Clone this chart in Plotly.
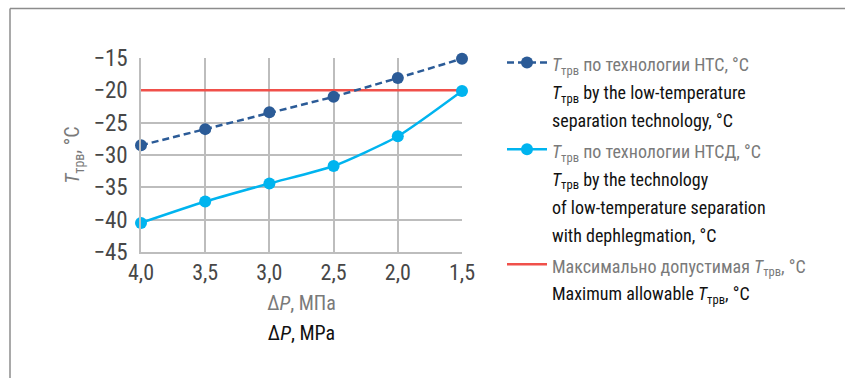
import plotly.graph_objects as go

dp = [4.0, 3.5, 3.0, 2.5, 2.0, 1.5]
t_nts = [-28.5, -26.0, -23.4, -21.0, -18.1, -15.1]
t_ntsd = [-40.5, -37.2, -34.4, -31.7, -27.1, -20.1]
t_max = [-20.0, -20.0, -20.0, -20.0, -20.0, -20.0]

y_ticks = [-45, -40, -35, -30, -25, -20, -15]
x_ticks = [4.0, 3.5, 3.0, 2.5, 2.0, 1.5]

FONT = "Roboto Condensed, Liberation Sans Narrow, sans-serif"
GRAY = "#7a7a7a"
DARK = "#474747"
TX = "<i>T</i><sub>трв</sub>"

def lg(ru, en_lines):
    s = "<span style='font-size:18px;color:%s'>%s</span>" % (GRAY, ru)
    for l in en_lines:
        s += "<br><span style='font-size:18px;color:#111111'>%s</span>" % l
    return s

name1 = lg(TX + " по технологии НТС, °C",
           [TX + " by the low-temperature", "separation technology, °C"])
name2 = lg(TX + " по технологии НТСД, °C",
           [TX + " by the technology", "of low-temperature separation",
            "with dephlegmation, °C"])
name3 = lg("Максимально допустимая " + TX + ", °C",
           ["Maximum allowable " + TX + ", °C"])

fig = go.Figure()
fig.add_trace(go.Scatter(x=dp, y=t_max, mode="lines", name=name3,
                         line=dict(color="#f0504a", width=2.5),
                         cliponaxis=False, legendrank=3))
fig.add_trace(go.Scatter(x=dp, y=t_nts, mode="lines+markers", name=name1,
                         line=dict(color="#2b5b97", width=2.5, dash="7px,4px"),
                         marker=dict(size=12, color="#2b5b97"),
                         cliponaxis=False, legendrank=1))
fig.add_trace(go.Scatter(x=dp, y=t_ntsd, mode="lines+markers", name=name2,
                         line=dict(color="#00b4ef", width=2.5, shape="spline", smoothing=0.6),
                         marker=dict(size=12, color="#00b4ef"),
                         cliponaxis=False, legendrank=2))

L, R, T, B = 141, 383, 58, 126
W, H = 845, 378
pw, ph = W - L - R, H - T - B

def px(x):
    return (x - L) / pw

def py(y):
    return (H - B - y) / ph

frame = dict(color="#8c8c8c", width=1.5)
fig.add_shape(type="line", xref="paper", yref="paper",
              x0=px(10), y0=py(8.5), x1=px(850), y1=py(8.5), line=frame)
fig.add_shape(type="line", xref="paper", yref="paper",
              x0=px(10), y0=py(8.5), x1=px(10), y1=py(385), line=frame)

fig.update_layout(
    width=W, height=H,
    margin=dict(l=L, r=R, t=T, b=B),
    paper_bgcolor="white", plot_bgcolor="white",
    separators=", ",
    font=dict(family=FONT, size=20, color=DARK),
    showlegend=True,
    legend=dict(x=px(502), y=py(42), xanchor="left", yanchor="top",
                font=dict(family=FONT, size=21.5), valign="top",
                traceorder="normal", tracegroupgap=0, itemwidth=40,
                maxheight=400, bgcolor="rgba(0,0,0,0)"),
)
fig.update_xaxes(range=[4.0, 1.5], tickvals=x_ticks, tickformat=".1f",
                 showgrid=True, gridcolor="#bdbdbd", gridwidth=1.5,
                 showline=True, linecolor="#bdbdbd", linewidth=1.5,
                 mirror=False, zeroline=False,
                 tickfont=dict(family=FONT, size=22, color=DARK),
                 ticks="", ticklabelstandoff=0,
                 title=dict(text="<span style='font-size:20px;color:%s'>Δ<i>P</i>, МПа</span><br>"
                                 "<span style='font-size:20px;color:#111111'>Δ<i>P</i>, MPa</span>" % GRAY,
                            font=dict(family=FONT, size=23), standoff=10))
fig.update_yaxes(range=[-45, -15], tickvals=y_ticks,
                 showgrid=True, gridcolor="#bdbdbd", gridwidth=1.5,
                 showline=True, linecolor="#bdbdbd", linewidth=1.5,
                 zeroline=False,
                 tickfont=dict(family=FONT, size=23, color=DARK),
                 ticks="", ticklabelstandoff=7,
                 title=dict(text=TX + ", °C", font=dict(family=FONT, size=20, color=GRAY),
                            standoff=8))

fig.write_html("out.html", config={"displayModeBar": False},
               post_script="document.body.style.margin='0';")
